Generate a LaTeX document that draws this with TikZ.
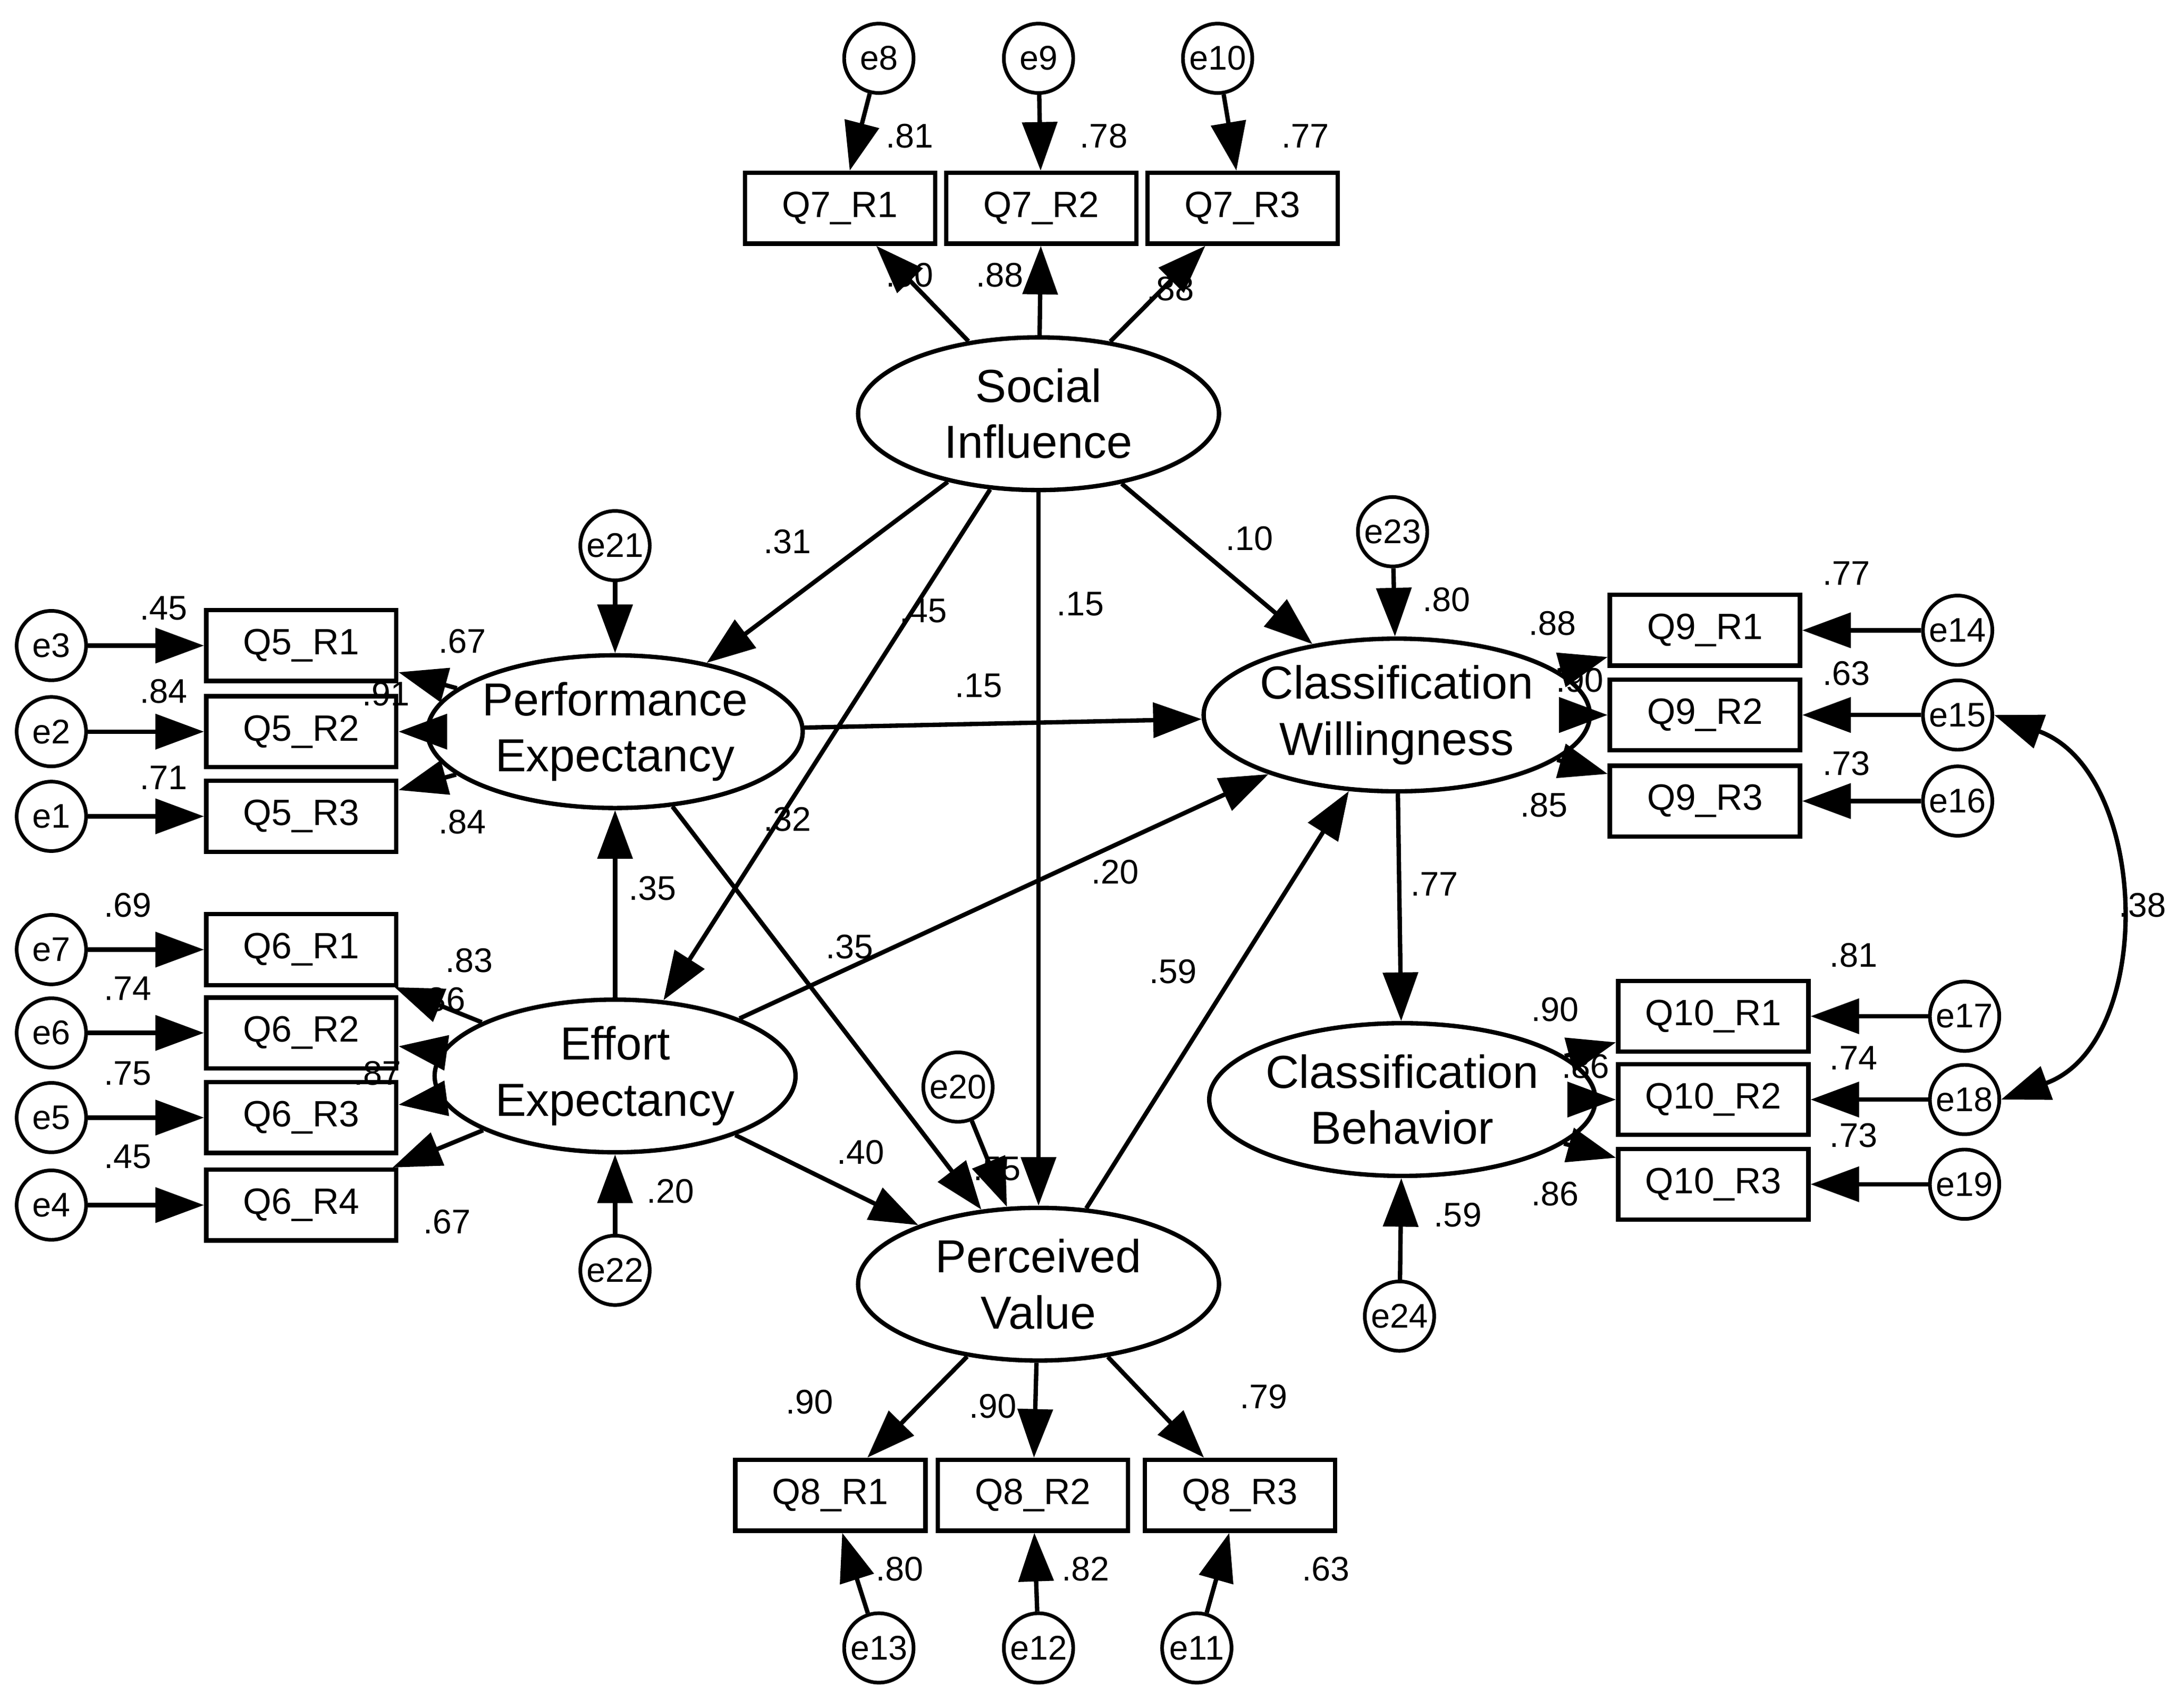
\documentclass[tikz,border=0pt]{standalone}
\usepackage{fontspec}
\setmainfont{Liberation Sans}
\usetikzlibrary{shapes.geometric,arrows.meta}
\begin{document}
\begin{tikzpicture}[x=0.02cm,y=-0.02cm,
 lat/.style={ellipse,draw,line width=1.8pt,minimum width=5.2cm,minimum height=2.2cm,align=center,inner sep=0pt,font=\fontsize{19}{23}\selectfont},
 obs/.style={draw,line width=1.8pt,minimum width=2.74cm,minimum height=1.02cm,inner sep=0pt,font=\fontsize{15}{17}\selectfont},
 err/.style={circle,draw,line width=1.5pt,minimum size=1cm,inner sep=0pt,font=\fontsize{14}{16}\selectfont},
 arr/.style={line width=1.8pt,-{Triangle[length=0.7cm,width=0.5cm]}},
 lb/.style={font=\fontsize{14}{16}\selectfont,inner sep=0pt}]
\useasboundingbox (0,0) rectangle (1568,1230);
% latents
\node[lat] (SI) at (748,298) {Social\\Influence};
\node[lat] (PE) at (443,527) {Performance\\Expectancy};
\node[lat] (EE) at (443,775) {Effort\\Expectancy};
\node[lat] (CW) at (1006,515) {Classification\\Willingness};
\node[lat] (CB) at (1010,792) {Classification\\Behavior};
\node[lat] (PV) at (748,925) {Perceived\\Value};
% observed
\foreach \n/\x/\y in {Q7_R1/605/150,Q7_R2/750/150,Q7_R3/895/150,
 Q5_R1/217/465,Q5_R2/217/527,Q5_R3/217/588,
 Q6_R1/217/684,Q6_R2/217/744,Q6_R3/217/805,Q6_R4/217/868,
 Q9_R1/1228/454,Q9_R2/1228/515,Q9_R3/1228/577,
 Q10_R1/1234/732,Q10_R2/1234/792,Q10_R3/1234/853,
 Q8_R1/598/1077,Q8_R2/744/1077,Q8_R3/893/1077}
 \node[obs] (\n) at (\x,\y) {\detokenize\expandafter{\n}};
% errors
\foreach \n/\x/\y in {e8/633/42,e9/748/42,e10/877/42,e21/443/393,
 e3/37/465,e2/37/527,e1/37/588,e7/37/684,e6/37/744,e5/37/805,e4/37/868,
 e22/443/915,e20/690/783,e23/1003/383,e14/1410/454,e15/1410/515,e16/1410/577,
 e17/1415/732,e18/1415/792,e19/1415/853,e24/1008/948,e13/633/1187,e12/748/1187,e11/862/1187}
 \node[err] (\n) at (\x,\y) {\n};
% measurement arrows
\foreach \a/\b in {SI/Q7_R1,SI/Q7_R2,SI/Q7_R3,PE/Q5_R1,PE/Q5_R2,PE/Q5_R3,
 EE/Q6_R1,EE/Q6_R2,EE/Q6_R3,EE/Q6_R4,CW/Q9_R1,CW/Q9_R2,CW/Q9_R3,
 CB/Q10_R1,CB/Q10_R2,CB/Q10_R3,PV/Q8_R1,PV/Q8_R2,PV/Q8_R3,
 e8/Q7_R1,e9/Q7_R2,e10/Q7_R3,e3/Q5_R1,e2/Q5_R2,e1/Q5_R3,
 e7/Q6_R1,e6/Q6_R2,e5/Q6_R3,e4/Q6_R4,e14/Q9_R1,e15/Q9_R2,e16/Q9_R3,
 e17/Q10_R1,e18/Q10_R2,e19/Q10_R3,e13/Q8_R1,e12/Q8_R2,e11/Q8_R3,
 e21/PE,e22/EE,e20/PV,e23/CW,e24/CB,
 SI/PE,SI/EE,SI/PV,SI/CW,PE/CW,PE/PV,EE/PE,EE/CW,EE/PV,PV/CW,CW/CB}
 \draw[arr] (\a) -- (\b);
\draw[line width=1.8pt,{Triangle[length=0.7cm,width=0.5cm]}-{Triangle[length=0.7cm,width=0.5cm]}] (e15.east) to[out=-20,in=20,looseness=1.1] (e18.east);
% labels
\foreach \t/\x/\y in {.81/655/98,.78/795/98,.77/940/98,.90/655/198,.88/720/198,.88/843/208,
 .31/567/390,.45/665/440,.15/778/435,.10/900/388,
 .45/118/438,.84/118/498,.71/118/560,.67/333/462,.91/278/500,.84/333/592,
 .15/705/494,.32/567/590,.35/470/640,.20/803/628,.35/612/682,.59/845/700,
 .69/92/652,.74/92/712,.75/92/773,.45/92/833,.83/338/692,.86/318/720,.87/272/773,.67/322/880,
 .20/483/858,.40/620/830,.55/718/842,
 .80/1042/432,.88/1118/449,.90/1138/490,.85/1112/580,.77/1330/413,.63/1330/485,.73/1330/550,
 .77/1033/637,.38/1543/652,
 .81/1335/688,.90/1120/727,.86/1142/768,.86/1120/860,.74/1335/762,.73/1335/818,.59/1050/875,
 .90/583/1010,.90/715/1013,.79/910/1006,.80/648/1130,.82/782/1130,.63/955/1130}
 \node[lb] at (\x,\y) {\t};
\end{tikzpicture}
\end{document}
